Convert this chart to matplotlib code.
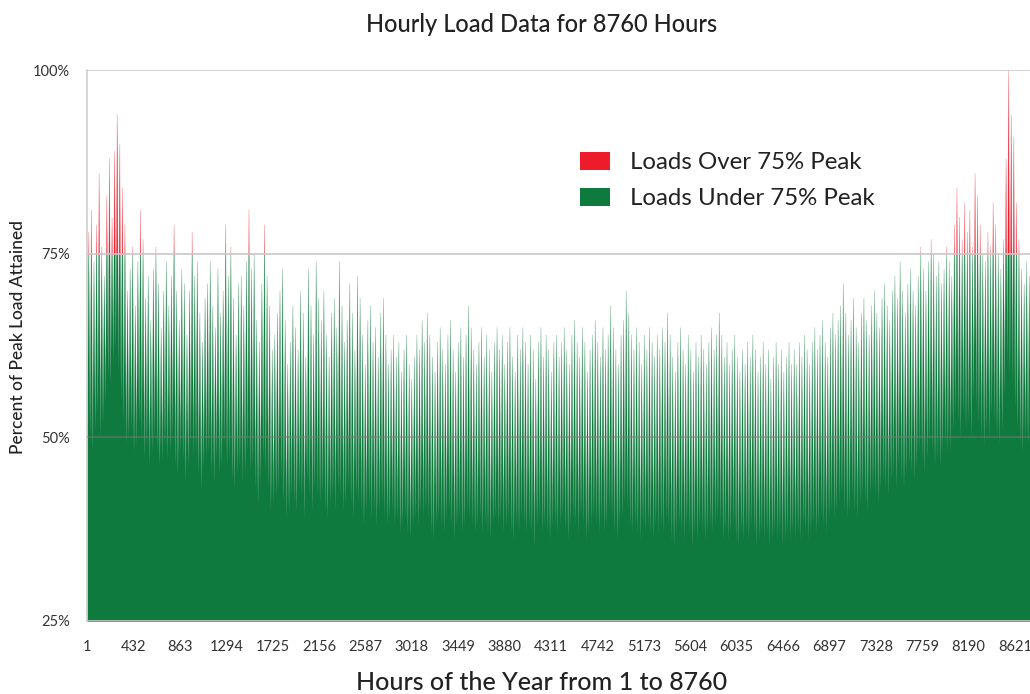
import numpy as np
import matplotlib
matplotlib.use("Agg")
import matplotlib.pyplot as plt
from matplotlib.patches import Rectangle, Patch

plt.rcParams['font.family'] = ['Lato', 'DejaVu Sans']

# Daily peak load (% of annual peak), one value per day, grouped by month
daily_peak = [
    # Jan
    78, 81, 74, 79, 86, 76, 72, 83, 88, 80, 89, 94, 90, 84, 79, 70, 73, 76, 68, 74, 81, 77, 69, 72, 66, 73, 76, 71, 65, 70, 74,
    # Feb
    68, 72, 79, 70, 66, 73, 71, 64, 70, 78, 72, 74, 67, 63, 69, 71, 74, 68, 65, 73, 67, 70, 79, 72, 76, 69, 64, 71,
    # Mar
    72, 68, 74, 81, 73, 75, 66, 63, 71, 79, 72, 68, 62, 64, 67, 70, 73, 66, 60, 63, 68, 65, 62, 70, 67, 61, 73, 68, 64, 74, 69,
    # Apr
    66, 70, 64, 61, 67, 69, 65, 74, 68, 63, 66, 71, 67, 62, 72, 69, 64, 60, 66, 68, 63, 65, 61, 67, 69, 64, 60, 62, 64, 61,
    # May
    63, 59, 62, 64, 60, 58, 61, 64, 62, 66, 63, 67, 64, 61, 59, 63, 65, 62, 60, 64, 66, 62, 59, 63, 65, 61, 64, 68, 65, 62, 60,
    # Jun
    63, 65, 61, 64, 62, 59, 63, 65, 62, 64, 60, 63, 65, 61, 59, 64, 62, 65, 63, 60, 64, 62, 58, 63, 65, 61, 64, 62, 59, 63,
    # Jul
    64, 61, 63, 65, 62, 60, 64, 66, 63, 61, 65, 63, 59, 62, 64, 66, 63, 61, 65, 62, 64, 68, 65, 62, 60, 64, 66, 70, 67, 64, 62,
    # Aug
    65, 63, 60, 64, 62, 65, 63, 61, 64, 62, 65, 63, 67, 64, 61, 59, 63, 65, 62, 60, 64, 62, 59, 63, 61, 64, 62, 60, 63, 65, 62,
    # Sep
    64, 67, 64, 61, 63, 60, 62, 64, 61, 59, 62, 60, 63, 61, 64, 62, 59, 61, 63, 60, 62, 58, 61, 63, 60, 62, 59, 61, 63, 60,
    # Oct
    62, 60, 63, 61, 64, 62, 60, 63, 65, 62, 64, 66, 63, 61, 65, 67, 64, 66, 68, 71, 67, 64, 66, 69, 65, 63, 67, 69, 66, 64, 68,
    # Nov
    70, 67, 65, 69, 71, 68, 66, 70, 72, 69, 74, 70, 67, 71, 73, 70, 68, 72, 76, 73, 70, 74, 77, 75, 72, 74, 71, 73, 76, 74,
    # Dec
    72, 79, 84, 80, 77, 82, 78, 81, 76, 86, 83, 79, 75, 74, 78, 76, 82, 79, 75, 73, 77, 88, 100, 94, 91, 82, 77, 73, 71, 74, 72,
]

# Daily minimum load (% of annual peak)
daily_low = [
    # Jan
    49, 50, 48, 51, 53, 50, 52, 55, 58, 57, 60, 62, 59, 55, 52, 49, 50, 51, 48, 49, 52, 50, 47, 49, 46, 48, 50, 48, 46, 47, 49,
    # Feb
    47, 48, 50, 46, 45, 48, 47, 44, 46, 49, 47, 48, 45, 43, 46, 47, 48, 45, 44, 47, 45, 46, 49, 46, 47, 44, 43, 45,
    # Mar
    46, 44, 45, 48, 45, 46, 43, 41, 44, 47, 45, 43, 40, 41, 42, 43, 44, 41, 39, 40, 42, 41, 40, 43, 42, 39, 44, 42, 40, 43, 42,
    # Apr
    41, 42, 40, 39, 41, 42, 40, 43, 42, 40, 41, 43, 41, 39, 42, 41, 40, 38, 40, 41, 39, 40, 38, 40, 41, 39, 38, 39, 40, 38,
    # May
    39, 37, 38, 39, 37, 36, 38, 39, 38, 40, 39, 40, 39, 37, 36, 38, 39, 38, 37, 39, 40, 38, 36, 38, 39, 37, 38, 40, 39, 38, 37,
    # Jun
    38, 39, 37, 38, 37, 36, 38, 39, 38, 39, 37, 38, 39, 37, 36, 38, 37, 39, 38, 37, 38, 37, 35, 38, 39, 37, 38, 37, 36, 38,
    # Jul
    38, 37, 38, 39, 37, 36, 38, 39, 38, 37, 39, 38, 36, 37, 38, 39, 38, 37, 39, 37, 38, 40, 39, 37, 36, 38, 39, 41, 40, 38, 37,
    # Aug
    38, 37, 36, 38, 37, 38, 37, 36, 38, 37, 38, 37, 39, 38, 36, 35, 37, 38, 37, 36, 38, 37, 35, 37, 36, 38, 37, 36, 37, 38, 37,
    # Sep
    38, 39, 38, 36, 37, 36, 37, 38, 36, 35, 37, 36, 37, 36, 38, 37, 35, 36, 37, 36, 37, 35, 36, 37, 36, 37, 35, 36, 37, 36,
    # Oct
    37, 36, 37, 36, 38, 37, 36, 37, 38, 37, 38, 39, 38, 37, 39, 40, 39, 40, 41, 42, 40, 39, 40, 42, 40, 39, 41, 42, 41, 40, 42,
    # Nov
    43, 42, 41, 43, 44, 43, 42, 44, 45, 43, 46, 44, 43, 45, 46, 45, 44, 46, 48, 47, 45, 47, 49, 48, 46, 47, 46, 48, 49, 48,
    # Dec
    48, 51, 53, 52, 50, 53, 51, 52, 50, 55, 54, 52, 50, 49, 51, 50, 53, 52, 50, 49, 51, 56, 60, 58, 57, 54, 51, 49, 48, 50, 49,
]

threshold = 75
y_ticks = [25, 50, 75, 100]
x_tick_hours = [1, 432, 863, 1294, 1725, 2156, 2587, 3018, 3449, 3880, 4311,
                4742, 5173, 5604, 6035, 6466, 6897, 7328, 7759, 8190, 8621]
legend_labels = ["Loads Over 75% Peak", "Loads Under 75% Peak"]

GREEN = "#0e7a3d"
RED = "#ec1c2a"
TEXT = "#222222"

# Load trace: each day's minimum at the start of the day, its peak at midday
peak = np.asarray(daily_peak, dtype=float)
low = np.asarray(daily_low, dtype=float)
n_days = len(peak)
day_start = np.arange(n_days) * 24 + 1
hours = np.empty(2 * n_days + 1)
load = np.empty(2 * n_days + 1)
hours[0:-1:2] = day_start
hours[1::2] = day_start + 12
hours[-1] = n_days * 24
load[0:-1:2] = low
load[1::2] = peak
load[-1] = low[-1]

fig = plt.figure(figsize=(10.30, 6.94), dpi=100)
ax = fig.add_axes([87 / 1030, 73 / 694, 943 / 1030, 551 / 694])
ax.set_xlim(1, 8760)
ax.set_ylim(25, 100)

under = ax.fill_between(hours, 25, load, facecolor=GREEN, edgecolor=(0.055, 0.478, 0.24, 0.45),
                        lw=0.4, zorder=2)
under.set_clip_path(Rectangle((0, 25), 9000, threshold - 25, transform=ax.transData))
over = ax.fill_between(hours, 25, load, facecolor=RED, edgecolor=(0.925, 0.11, 0.165, 0.45),
                       lw=0.4, zorder=2)
over.set_clip_path(Rectangle((0, threshold), 9000, 100 - threshold, transform=ax.transData))

# Horizontal gridlines drawn over the load area
for yv in y_ticks:
    ax.axhline(yv, color="#7a7a7a" if yv == 50 else "#c8c8c8",
               lw=1.2, alpha=0.55 if yv == 50 else 1.0, zorder=3)

for side in ("top", "right", "bottom"):
    ax.spines[side].set_visible(False)
ax.spines["left"].set_color("#d0d0d0")
ax.spines["left"].set_linewidth(1.2)

ax.set_yticks(y_ticks)
ax.set_yticklabels([f"{v}%" for v in y_ticks], fontsize=10.5, color="#333333")
ax.set_xticks(x_tick_hours)
ax.set_xticklabels([str(h) for h in x_tick_hours], fontsize=10.5, color="#333333")
ax.tick_params(axis="both", length=0)
ax.tick_params(axis="y", pad=12)
ax.tick_params(axis="x", pad=14)

fig.text(542 / 1030, 1 - 24 / 694, "Hourly Load Data for 8760 Hours",
         ha="center", va="center", fontsize=17, color=TEXT, fontweight="medium")
fig.text(542 / 1030, 1 - 683 / 694, "Hours of the Year from 1 to 8760",
         ha="center", va="center", fontsize=18, color=TEXT, fontweight="medium")
fig.text(18 / 1030, 1 - 337 / 694, "Percent of Peak Load Attained",
         ha="center", va="center", rotation=90, fontsize=12.5, color=TEXT, fontweight="medium")

handles = [Patch(facecolor=RED, edgecolor="none"), Patch(facecolor=GREEN, edgecolor="none")]
ax.legend(handles, legend_labels, loc="upper left",
          bbox_to_anchor=((580 - 87) / 943, (621 - 152) / 551),
          frameon=False, fontsize=17.3, handlelength=1.25, handleheight=0.75,
          handletextpad=0.83, labelspacing=0.62, borderpad=0, borderaxespad=0,
          labelcolor=TEXT)

fig.savefig("out.png", dpi=100)
